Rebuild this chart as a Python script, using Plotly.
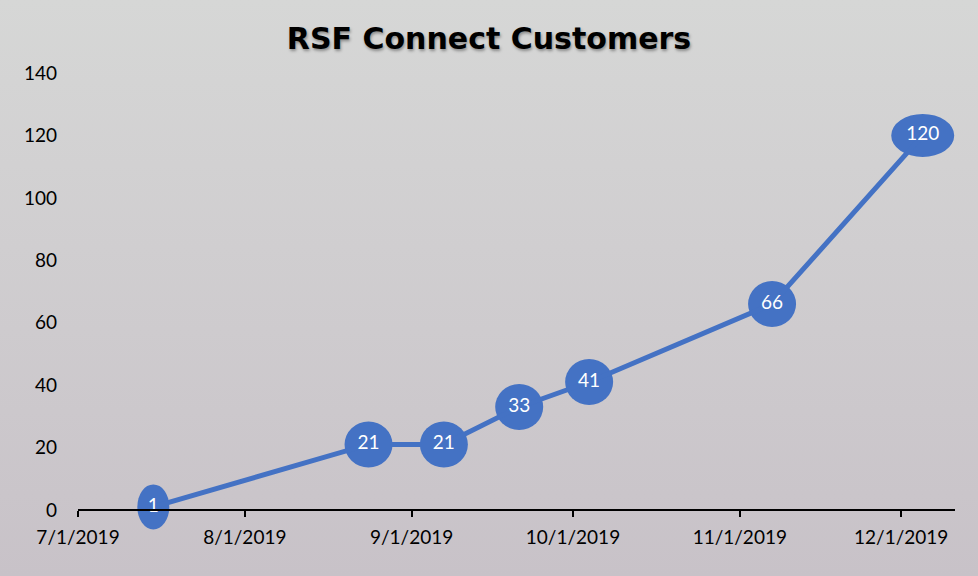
import base64
import plotly.graph_objects as go

# data
dates = ["2019-07-15", "2019-08-24", "2019-09-07", "2019-09-21",
         "2019-10-04", "2019-11-07", "2019-12-05"]
customers = [1, 21, 21, 33, 41, 66, 120]
labels = [str(v) for v in customers]

x_ticks = ["2019-07-01", "2019-08-01", "2019-09-01", "2019-10-01",
           "2019-11-01", "2019-12-01"]
x_ticktext = ["7/1/2019", "8/1/2019", "9/1/2019", "10/1/2019",
              "11/1/2019", "12/1/2019"]
y_ticks = [0, 20, 40, 60, 80, 100, 120, 140]

W, H = 978, 576
L, R, T, B = 78, 23, 73, 41
pw, ph = W - L - R, H - T - B
blue = "#4472C4"

# grey gradient background like the office chart style
svg = ('<svg xmlns="http://www.w3.org/2000/svg" width="978" height="576">'
       '<defs><linearGradient id="g" x1="0" y1="0" x2="0" y2="1">'
       '<stop offset="0" stop-color="#d6d7d6"/>'
       '<stop offset="1" stop-color="#c8c2c8"/></linearGradient></defs>'
       '<rect width="978" height="576" fill="url(#g)"/></svg>')
bg = "data:image/svg+xml;base64," + base64.b64encode(svg.encode()).decode()

fig = go.Figure()

fig.add_trace(
    go.Scatter(
        x=dates,
        y=customers,
        mode="lines+text",
        line=dict(color=blue, width=5),
        text=labels,
        textposition="middle center",
        textfont=dict(family="Lato", size=19, color="white"),
        showlegend=False,
        hoverinfo="x+y",
    )
)

# ellipse labels sized to the text, like excel data callouts
for d, v, lab in zip(dates, customers, labels):
    w = {1: 32, 2: 48, 3: 63}[len(lab)]
    h = {1: 45, 2: 46, 3: 43}[len(lab)]
    fig.add_shape(
        type="circle",
        xref="x", yref="y",
        xsizemode="pixel", ysizemode="pixel",
        xanchor=d, yanchor=v,
        x0=-w / 2, x1=w / 2, y0=-h / 2, y1=h / 2,
        fillcolor=blue,
        line=dict(width=0),
        layer="below",
    )

zero_pos = 8 / 148  # where y=0 sits inside the plot area

fig.update_layout(
    width=W, height=H,
    margin=dict(l=L, r=R, t=T, b=B, autoexpand=False),
    paper_bgcolor="#cfcecf",
    plot_bgcolor="rgba(0,0,0,0)",
    images=[dict(source=bg, xref="paper", yref="paper",
                 x=-L / pw, y=1 + T / ph, sizex=W / pw, sizey=H / ph,
                 xanchor="left", yanchor="top", sizing="stretch",
                 layer="below")],
    title=dict(text="<b>RSF Connect Customers</b>", x=0.5, xanchor="center",
               y=1 - 38 / H, yanchor="middle",
               font=dict(family="DejaVu Sans", size=30, color="black",
                         shadow="1px 2px 3px rgba(0,0,0,0.35)")),
    xaxis=dict(
        range=["2019-07-01", "2019-12-11"],
        tickvals=x_ticks, ticktext=x_ticktext,
        showgrid=False, zeroline=False,
        showline=True, linecolor="black", linewidth=2,
        ticks="outside", ticklen=6, tickwidth=2, tickcolor="black",
        ticklabelstandoff=4,
        anchor="free", position=zero_pos, automargin=False,
        tickfont=dict(family="Lato", size=19, color="black"),
    ),
    yaxis=dict(
        range=[-8, 140],
        tickvals=y_ticks, automargin=False,
        showgrid=False, zeroline=False, showline=False,
        ticks="", ticklabelstandoff=20,
        tickfont=dict(family="Lato", size=19, color="black"),
    ),
)

fig.write_html("out.html", config={"displayModeBar": False},
               post_script="document.body.style.margin='0';")
